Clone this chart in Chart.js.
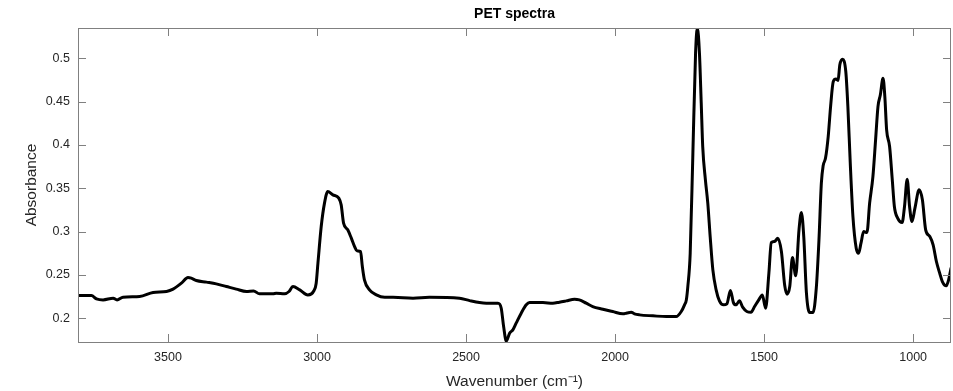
<!DOCTYPE html>
<html><head><meta charset="utf-8">
<script src="https://cdn.jsdelivr.net/npm/chart.js@4"></script>
<style>html,body{margin:0;padding:0;background:#fff}#wrap{width:953px;height:391px}</style>
</head><body><div id="wrap"><canvas id="c" width="953" height="391"></canvas></div>
<script>
const chartTitle = 'PET spectra';
const xAxisTitle = 'Wavenumber (cm\u207B\u00B9)';
const yAxisTitle = 'Absorbance';
const xTickValues = [3500, 3000, 2500, 2000, 1500, 1000];
const yTickValues = [0.2, 0.25, 0.3, 0.35, 0.4, 0.45, 0.5];
const xRange = [873, 3802];
const yRange = [0.1725, 0.535];

const wavenumbers = [
 3802,3757,3740,3718,3684,3671,3651,3595,3550,3505,3483,3455,3433,3422,3405,3371,3338,3304,3271,3237,
 3213,3193,3148,3137,3109,3094,3081,3058,3031,3010,3003,2997,2986,2975,2964,2947,2927,2919,2911,2897,
 2885,2874,2866,2854,2848,2841,2824,2801,2773,2745,2678,2623,2522,2488,2455,2432,2393,2382,2374,2365,
 2354,2343,2332,2315,2298,2287,2242,2209,2187,2164,2136,2120,2097,2075,2041,2008,1974,1960,1946,1935,
 1918,1873,1828,1795,1778,1767,1761,1756,1748,1739,1730,1724,1717,1711,1706,1697,1689,1681,1672,1661,
 1650,1636,1625,1613,1603,1594,1583,1572,1558,1544,1532,1518,1506,1495,1484,1476,1465,1454,1442,1431,
 1423,1414,1405,1394,1383,1375,1367,1358,1347,1336,1325,1316,1308,1302,1294,1285,1277,1268,1259,1252,
 1246,1237,1226,1219,1211,1202,1191,1183,1175,1166,1155,1146,1135,1126,1118,1110,1101,1095,1089,1079,
 1070,1063,1052,1037,1029,1020,1012,1004,994,980,969,958,944,933,922,911,902,889,881,873
];
const absorbance = [
 0.2261,0.2261,0.2223,0.2211,0.2231,0.2211,0.2242,0.2250,0.2296,0.2308,0.2335,0.2404,0.2469,0.2462,0.2435,0.2416,0.2396,0.2365,0.2335,0.2308,
 0.2315,0.2281,0.2281,0.2289,0.2281,0.2308,0.2365,0.2327,0.2269,0.2320,0.2400,0.2635,0.3058,0.3328,0.3462,0.3424,0.3386,0.3308,0.3097,0.3020,
 0.2924,0.2827,0.2777,0.2769,0.2596,0.2442,0.2327,0.2269,0.2242,0.2242,0.2231,0.2242,0.2231,0.2203,0.2180,0.2173,0.2173,0.2115,0.1903,0.1735,
 0.1827,0.1865,0.1942,0.2058,0.2154,0.2180,0.2180,0.2173,0.2185,0.2200,0.2219,0.2211,0.2173,0.2134,0.2104,0.2077,0.2050,0.2060,0.2069,0.2050,
 0.2038,0.2027,0.2018,0.2018,0.2077,0.2154,0.2211,0.2365,0.2750,0.3905,0.5060,0.5350,0.5060,0.4483,0.3980,0.3597,0.3328,0.2942,0.2558,0.2327,
 0.2200,0.2154,0.2165,0.2319,0.2180,0.2154,0.2200,0.2127,0.2077,0.2069,0.2134,0.2211,0.2269,0.2115,0.2520,0.2873,0.2885,0.2924,0.2770,0.2380,
 0.2277,0.2365,0.2700,0.2489,0.3020,0.3219,0.2942,0.2289,0.2065,0.2065,0.2346,0.2904,0.3559,0.3759,0.3848,0.4097,0.4443,0.4732,0.4760,0.4744,
 0.4925,0.4990,0.4848,0.4443,0.3790,0.3173,0.2808,0.2750,0.2866,0.3000,0.2989,0.3328,0.3635,0.4059,0.4443,0.4579,0.4770,0.4559,0.4174,0.3982,
 0.3597,0.3289,0.3155,0.3104,0.3289,0.3605,0.3289,0.3115,0.3270,0.3482,0.3366,0.3020,0.2942,0.2846,0.2654,0.2520,0.2423,0.2373,0.2442,0.2577
];

Chart.defaults.font.family = "'Liberation Sans', Arial, Helvetica, sans-serif";
const axisColor = '#808080';
const textColor = '#262626';

const boxAndTicks = {
  id: 'boxAndTicks',
  afterDraw(chart) {
    const {ctx, chartArea: a, scales: {x, y}} = chart;
    const L = 8;
    ctx.save();
    ctx.strokeStyle = axisColor;
    ctx.lineWidth = 1;
    ctx.beginPath();
    x.ticks.forEach(t => {
      const p = Math.round(x.getPixelForValue(t.value)) + 0.5;
      ctx.moveTo(p, a.bottom); ctx.lineTo(p, a.bottom - L);
      ctx.moveTo(p, a.top); ctx.lineTo(p, a.top + L);
    });
    y.ticks.forEach(t => {
      const p = Math.round(y.getPixelForValue(t.value)) + 0.5;
      ctx.moveTo(a.left, p); ctx.lineTo(a.left + L, p);
      ctx.moveTo(a.right, p); ctx.lineTo(a.right - L, p);
    });
    ctx.stroke();
    ctx.strokeRect(Math.round(a.left) + 0.5, Math.round(a.top) + 0.5,
                   Math.round(a.right - a.left) - 1, Math.round(a.bottom - a.top));
    ctx.restore();
  }
};

new Chart(document.getElementById('c'), {
  type: 'line',
  data: {
    datasets: [{
      data: wavenumbers.map((w, i) => ({x: w, y: absorbance[i]})),
      borderColor: '#000000',
      borderWidth: 3,
      pointRadius: 0,
      fill: false,
      cubicInterpolationMode: 'monotone',
      borderJoinStyle: 'round',
      borderCapStyle: 'round'
    }]
  },
  options: {
    responsive: false,
    devicePixelRatio: 1,
    animation: false,
    layout: {padding: {left: 0, right: 2, top: 0, bottom: 0}},
    plugins: {
      legend: {display: false},
      tooltip: {enabled: false},
      title: {
        display: true, text: chartTitle, fullSize: false, color: '#000',
        font: {size: 14, weight: 'bold'}, padding: {top: 5.6, bottom: 5.6}
      }
    },
    scales: {
      x: {
        type: 'linear', reverse: true, min: xRange[0], max: xRange[1],
        grid: {display: false, drawTicks: false}, border: {display: false},
        afterBuildTicks: s => { s.ticks = xTickValues.map(v => ({value: v})); },
        afterFit: s => { s.height = 49; },
        ticks: {color: textColor, font: {size: 12.5}, padding: 8, maxRotation: 0,
                callback: v => String(v)},
        title: {display: true, text: xAxisTitle, color: textColor, font: {size: 15.5},
                padding: {top: 0.2, bottom: 0}}
      },
      y: {
        type: 'linear', min: yRange[0], max: yRange[1],
        grid: {display: false, drawTicks: false}, border: {display: false},
        afterBuildTicks: s => { s.ticks = yTickValues.map(v => ({value: v})); },
        afterFit: s => { s.width = 78; },
        ticks: {color: textColor, font: {size: 12.5}, padding: 8,
                callback: v => String(+v.toFixed(2))},
        title: {display: true, text: yAxisTitle, color: textColor, font: {size: 15.5},
                padding: {top: 22.7, bottom: 0}}
      }
    }
  },
  plugins: [boxAndTicks]
});
</script>
</body></html>
